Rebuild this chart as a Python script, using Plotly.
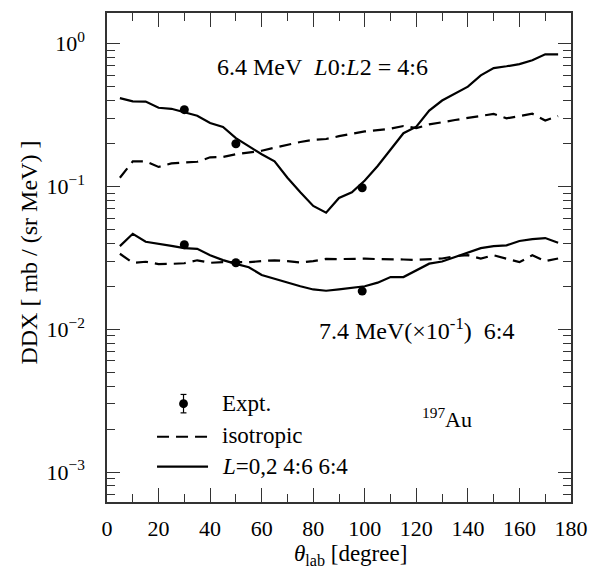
import plotly.graph_objects as go

# Angular grid of the calculations (lab angle, degrees)
theta = [5, 10, 15, 20, 25, 30, 35, 40, 45, 50, 55, 60, 65, 70, 75, 80, 85, 90,
         95, 100, 105, 110, 115, 120, 125, 130, 135, 140, 145, 150, 155, 160,
         165, 170, 175]

# 6.4 MeV, L0:L2 = 4:6
ddx64_L = [0.416, 0.395, 0.393, 0.356, 0.350, 0.333, 0.313, 0.278, 0.261, 0.218,
           0.190, 0.168, 0.150, 0.115, 0.091, 0.073, 0.0655, 0.083, 0.091, 0.110,
           0.139, 0.180, 0.236, 0.262, 0.340, 0.400, 0.447, 0.500, 0.600, 0.675,
           0.695, 0.720, 0.765, 0.842, 0.842]
ddx64_iso = [0.115, 0.150, 0.150, 0.137, 0.145, 0.147, 0.149, 0.160, 0.161, 0.168,
             0.173, 0.178, 0.187, 0.197, 0.205, 0.212, 0.215, 0.225, 0.235, 0.243,
             0.248, 0.254, 0.265, 0.256, 0.272, 0.283, 0.292, 0.302, 0.312, 0.322,
             0.300, 0.310, 0.323, 0.290, 0.311]

# 7.4 MeV (x 10^-1), L0:L2 = 6:4
ddx74_L = [0.0382, 0.0466, 0.0410, 0.0398, 0.0384, 0.0370, 0.0366, 0.0330, 0.0305,
           0.0287, 0.0272, 0.0240, 0.0225, 0.0211, 0.0200, 0.0190, 0.0186, 0.0190,
           0.0194, 0.0200, 0.0212, 0.0232, 0.0232, 0.0260, 0.0288, 0.0298, 0.0320,
           0.0345, 0.0370, 0.0382, 0.0387, 0.0415, 0.0428, 0.0435, 0.0403]
ddx74_iso = [0.0338, 0.0292, 0.0297, 0.0286, 0.0287, 0.0290, 0.0304, 0.0292, 0.0295,
             0.0295, 0.0295, 0.0300, 0.0304, 0.0300, 0.0293, 0.0300, 0.0311, 0.0310,
             0.0312, 0.0312, 0.0310, 0.0310, 0.0308, 0.0306, 0.0310, 0.0313, 0.0325,
             0.0330, 0.0313, 0.0330, 0.0312, 0.0295, 0.0330, 0.0300, 0.0313]

# Measurements
theta_exp = [30, 50, 99]
exp64 = [0.345, 0.199, 0.098]
exp74 = [0.0391, 0.0292, 0.0185]

# Axis ticks
x_ticks = [0, 20, 40, 60, 80, 100, 120, 140, 160, 180]
y_ticks = [1e-3, 1e-2, 1e-1, 1]
y_ticktext = ["10<sup>\u22123</sup>", "10<sup>\u22122</sup>", "10<sup>\u22121</sup>", "10<sup>0</sup>"]
y_minor = [m * 10.0 ** e for e in (-4, -3, -2, -1, 0) for m in range(2, 10)]

FONT = "Liberation Serif"
DASH = "12px,7px"

fig = go.Figure()
for y in (ddx64_iso, ddx74_iso):
    fig.add_trace(go.Scatter(x=theta, y=y, mode="lines",
                             line=dict(color="black", width=2.2, dash=DASH),
                             showlegend=False))
for y in (ddx64_L, ddx74_L):
    fig.add_trace(go.Scatter(x=theta, y=y, mode="lines",
                             line=dict(color="black", width=2.2),
                             showlegend=False))
for y in (exp64, exp74):
    fig.add_trace(go.Scatter(x=theta_exp, y=y, mode="markers",
                             marker=dict(color="black", size=9),
                             showlegend=False))

axis_common = dict(showline=True, linecolor="#333", linewidth=1.5, mirror="allticks",
                   ticks="inside", tickcolor="#333", tickwidth=1.2, showgrid=False,
                   zeroline=False, tickfont=dict(family=FONT, size=22, color="black"))

fig.update_xaxes(range=[0, 180], tickvals=x_ticks, ticklen=14,
                 minor=dict(dtick=10, tick0=0, ticks="inside", ticklen=8,
                            tickcolor="#333", tickwidth=1.2, showgrid=False),
                 ticklabelstandoff=6, **axis_common)
fig.update_yaxes(type="log", range=[-3.21, 0.215], tickvals=y_ticks,
                 ticktext=y_ticktext, ticklen=13,
                 minor=dict(tickvals=y_minor, ticks="inside", ticklen=8,
                            tickcolor="#333", tickwidth=1.2, showgrid=False),
                 ticklabelstandoff=16, **axis_common)

# Paper-coordinate helpers for the plot frame (pixels inside the figure)
L, R, T, B = 107, 580, 11, 502
def px(x):
    return (x - L) / (R - L)
def py(y):
    return (B - y) / (B - T)

def note(text, x, y, size=23, xanchor="center", angle=0):
    fig.add_annotation(text=text, x=px(x), y=py(y), xref="paper", yref="paper",
                       xanchor=xanchor, yanchor="middle", showarrow=False,
                       textangle=angle, font=dict(family=FONT, size=size, color="black"))

note("6.4 MeV\u00a0\u00a0<i>L</i>0:<i>L</i>2 = 4:6", 327, 65, size=24)
note("7.4 MeV(\u00d710<sup>-1</sup>)\u00a0\u00a06:4", 423, 328, size=24)
note("<sup>197</sup>Au", 454, 418, size=22)

# Legend
note("Expt.", 222, 403, size=23, xanchor="left")
note("isotropic", 222, 435, size=23, xanchor="left")
note("<i>L</i>=0,2 4:6 6:4", 222, 466, size=23, xanchor="left")
fig.add_shape(type="line", xref="paper", yref="paper", x0=px(158), x1=px(210),
              y0=py(436.5), y1=py(436.5), line=dict(color="black", width=2.2, dash=DASH))
fig.add_shape(type="line", xref="paper", yref="paper", x0=px(158), x1=px(210),
              y0=py(466.5), y1=py(466.5), line=dict(color="black", width=2.2))
fig.add_shape(type="line", xref="paper", yref="paper", x0=px(185), x1=px(185),
              y0=py(394), y1=py(412.5), line=dict(color="black", width=1.2))
for yy in (394, 412.5):
    fig.add_shape(type="line", xref="paper", yref="paper", x0=px(182), x1=px(188),
                  y0=py(yy), y1=py(yy), line=dict(color="black", width=1.2))
fig.add_shape(type="circle", xref="paper", yref="paper", x0=px(180.5), x1=px(189.5),
              y0=py(398.8), y1=py(407.8), fillcolor="black", line=dict(color="black", width=0))

# Axis titles
note("DDX [ mb / (sr MeV) ]", 27, 252, size=24, angle=-90)
note("<i>\u03b8</i><sub>lab</sub> [degree]", 355, 555, size=23)

fig.update_layout(width=599, height=578, margin=dict(l=L, r=599 - R, t=T, b=578 - B),
                  paper_bgcolor="white", plot_bgcolor="white", showlegend=False,
                  font=dict(family=FONT))

fig.write_html("out.html")
